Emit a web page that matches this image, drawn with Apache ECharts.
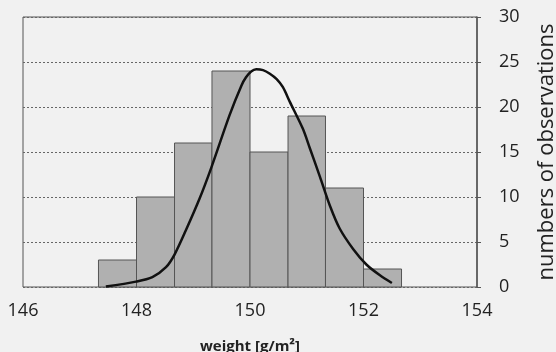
<!DOCTYPE html>
<html>
<head>
<meta charset="utf-8">
<script src="https://cdn.jsdelivr.net/npm/echarts@6/dist/echarts.min.js"></script>
<style>
  html, body { margin: 0; padding: 0; background: #f1f1f1; }
  #chart { width: 556px; height: 352px; }
</style>
</head>
<body>
<div id="chart"></div>
<script>
// histogram bins (edges in g/m2) and counts
const binEdges = [147.33, 148.0, 148.67, 149.33, 150.0, 150.67, 151.33, 152.0, 152.67]
const counts = [3, 10, 16, 24, 15, 19, 11, 2]

// fitted curve
const curveX = [147.46, 147.99, 148.28, 148.52, 148.67, 148.87, 149.11, 149.32, 149.64, 149.85,
  149.93, 150.02, 150.11, 150.23, 150.35, 150.47, 150.58, 150.70, 150.93, 151.05,
  151.23, 151.41, 151.58, 151.82, 152.05, 152.29, 152.50]
const curveY = [0.05, 0.6, 1.1, 2.2, 3.6, 6.3, 9.8, 13.3, 19.1, 22.4,
  23.3, 23.95, 24.2, 24.1, 23.7, 23.1, 22.2, 20.6, 17.6, 15.5,
  12.3, 9.0, 6.5, 4.2, 2.5, 1.3, 0.45]

const xTicks = [146, 148, 150, 152, 154]
const yTicks = [0, 5, 10, 15, 20, 25, 30]

const font = '"Open Sans", "Noto Sans", sans-serif'
const chart = echarts.init(document.getElementById('chart'))

const bars = counts.map((c, i) => [binEdges[i], binEdges[i + 1], c])

chart.setOption({
  backgroundColor: '#f1f1f1',
  animation: false,
  grid: {
    left: 23, right: 79, top: 17, bottom: 65,
    outerBoundsMode: 'none',
    show: true, borderColor: '#555', borderWidth: 1, backgroundColor: 'transparent'
  },
  xAxis: {
    type: 'value',
    min: xTicks[0], max: xTicks[xTicks.length - 1], interval: 2,
    axisLine: { show: false },
    axisTick: { show: false },
    splitLine: { show: false },
    axisLabel: { color: '#222', fontSize: 18, fontFamily: font, margin: 15 },
    name: 'weight [g/m²]',
    nameLocation: 'middle',
    nameGap: 52,
    nameTextStyle: { color: '#222', fontSize: 15, fontWeight: 'bold', fontFamily: font }
  },
  yAxis: {
    type: 'value',
    position: 'right',
    min: yTicks[0], max: yTicks[yTicks.length - 1], interval: 5,
    axisLine: { show: true, lineStyle: { color: '#555', width: 1.5 } },
    axisTick: { show: true, inside: false, length: 4, lineStyle: { color: '#555' } },
    splitLine: { show: true, lineStyle: { color: '#666', type: [2, 2], width: 1 } },
    axisLabel: { color: '#222', fontSize: 18, fontFamily: font, margin: 22 },
    name: 'numbers of observations',
    nameLocation: 'middle',
    nameRotate: 90,
    nameGap: 59,
    nameTextStyle: { color: '#222', fontSize: 22, fontFamily: font }
  },
  series: [
    {
      type: 'custom',
      data: bars,
      renderItem: (params, api) => {
        const p0 = api.coord([api.value(0), 0])
        const p1 = api.coord([api.value(1), api.value(2)])
        return {
          type: 'rect',
          shape: { x: p0[0], y: p1[1], width: p1[0] - p0[0], height: p0[1] - p1[1] },
          style: { fill: '#b0b0b0', stroke: '#555', lineWidth: 1 }
        }
      },
      encode: { x: [0, 1], y: 2 },
      z: 2
    },
    {
      type: 'line',
      data: curveX.map((x, i) => [x, curveY[i]]),
      smooth: 0.3,
      showSymbol: false,
      lineStyle: { color: '#111', width: 2.5 },
      z: 3
    }
  ]
})
</script>
</body>
</html>
